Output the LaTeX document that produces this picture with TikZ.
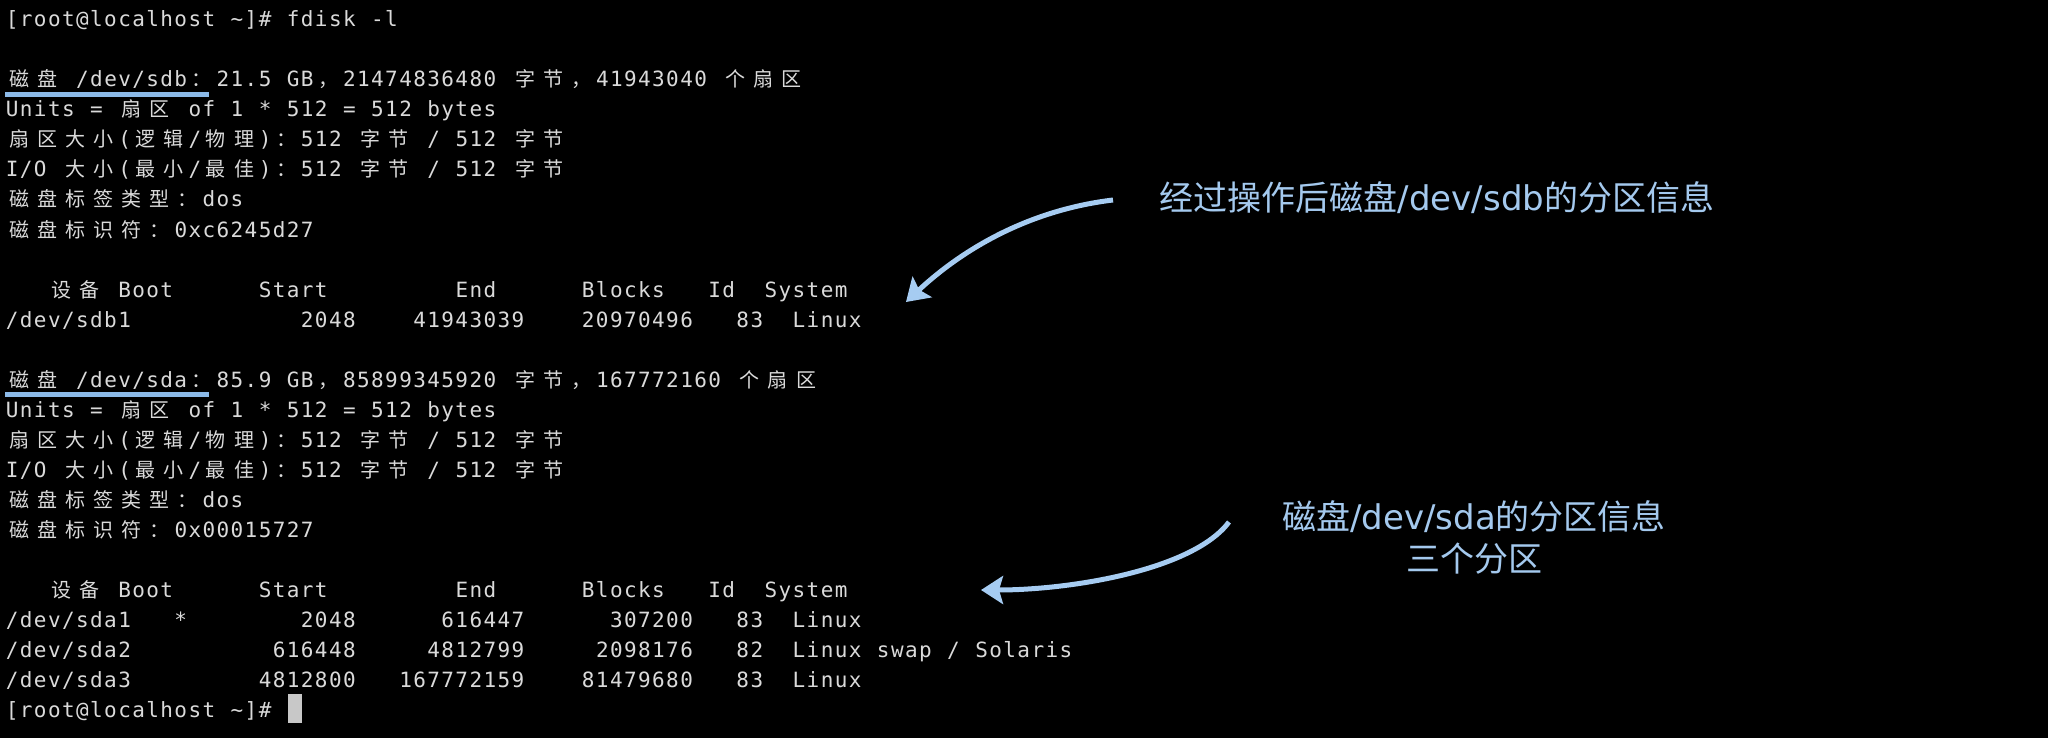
\documentclass[tikz,border=0pt]{standalone}
\usepackage{fontspec}
\usetikzlibrary{arrows.meta}
\newfontfamily\monofont{DejaVu Sans Mono}
\newfontfamily\cjkfont{Noto Sans CJK SC}
\newfontfamily\annlat{DejaVu Sans}
\definecolor{termgray}{HTML}{DADADA}
\definecolor{anncol}{HTML}{A4C9EE}
\definecolor{arrcol}{HTML}{A6CCF2}
\definecolor{ulcol}{HTML}{8CBAE8}
\definecolor{cursorgray}{HTML}{C8C8C8}
\newlength\cw \setlength\cw{14.05pt}
\def\Mend{MEND}
\newcommand\Mchar[1]{%
  \ifx#1~\hbox to\cw{}%
  \else\ifx#1\textasciitilde\hbox to\cw{\hss\textasciitilde\hss}%
  \else\ifnum`#1>255 \hbox to 2\cw{\hss{\cjkfont\fontsize{20}{30}\selectfont#1}\hss}%
  \else\hbox to\cw{\hss#1\hss}%
  \fi\fi\fi}
\def\Mloop#1{\ifx#1\Mend\else\Mchar{#1}\expandafter\Mloop\fi}
\newcommand\Mrow[1]{\Mloop#1\Mend}
\tikzset{
  term/.style={text=termgray, inner sep=0pt, anchor=base west,
    font=\monofont\fontsize{21}{30}\selectfont},
  ann/.style={text=anncol, inner sep=0pt, font=\fontsize{34}{42}\selectfont},
  uline/.style={draw=ulcol, line width=5pt},
  callout/.style={draw=arrcol, line width=5pt,
    -{Stealth[length=22pt,width=28pt,inset=4pt]}},
  cursorbox/.style={fill=cursorgray, minimum width=14pt, minimum height=29pt, inner sep=0pt}
}
\begin{document}
\begin{tikzpicture}[x=1pt,y=-1pt]
\fill[black] (0,0) rectangle (2048,738);
\useasboundingbox (0,0) rectangle (2048,738);
% terminal rows: baseline = 27 + 30k
\node[term] (r0) at (5,27) {\Mrow{[root@localhost~\textasciitilde]\#~fdisk~-l}};
\node[term] (r2) at (5,87) {\Mrow{磁盘~/dev/sdb：21.5~GB，21474836480~字节，41943040~个扇区}};
\node[term] (r3) at (5,117) {\Mrow{Units~=~扇区~of~1~*~512~=~512~bytes}};
\node[term] (r4) at (5,147) {\Mrow{扇区大小(逻辑/物理)：512~字节~/~512~字节}};
\node[term] (r5) at (5,177) {\Mrow{I/O~大小(最小/最佳)：512~字节~/~512~字节}};
\node[term] (r6) at (5,207) {\Mrow{磁盘标签类型：dos}};
\node[term] (r7) at (5,237) {\Mrow{磁盘标识符：0xc6245d27}};
\node[term] (r9) at (5,297) {\Mrow{~~~设备~Boot~~~~~~Start~~~~~~~~~End~~~~~~Blocks~~~Id~~System}};
\node[term] (r10) at (5,327) {\Mrow{/dev/sdb1~~~~~~~~~~~~2048~~~~41943039~~~~20970496~~~83~~Linux}};
\node[term] (r12) at (5,387) {\Mrow{磁盘~/dev/sda：85.9~GB，85899345920~字节，167772160~个扇区}};
\node[term] (r13) at (5,417) {\Mrow{Units~=~扇区~of~1~*~512~=~512~bytes}};
\node[term] (r14) at (5,447) {\Mrow{扇区大小(逻辑/物理)：512~字节~/~512~字节}};
\node[term] (r15) at (5,477) {\Mrow{I/O~大小(最小/最佳)：512~字节~/~512~字节}};
\node[term] (r16) at (5,507) {\Mrow{磁盘标签类型：dos}};
\node[term] (r17) at (5,537) {\Mrow{磁盘标识符：0x00015727}};
\node[term] (r19) at (5,597) {\Mrow{~~~设备~Boot~~~~~~Start~~~~~~~~~End~~~~~~Blocks~~~Id~~System}};
\node[term] (r20) at (5,627) {\Mrow{/dev/sda1~~~*~~~~~~~~2048~~~~~~616447~~~~~~307200~~~83~~Linux}};
\node[term] (r21) at (5,657) {\Mrow{/dev/sda2~~~~~~~~~~616448~~~~~4812799~~~~~2098176~~~82~~Linux~swap~/~Solaris}};
\node[term] (r22) at (5,687) {\Mrow{/dev/sda3~~~~~~~~~4812800~~~167772159~~~~81479680~~~83~~Linux}};
\node[term] (r23) at (5,717) {\Mrow{[root@localhost~\textasciitilde]\#~}};
\node[cursorbox] (cur) at (295,708.5) {};
% underlines
\draw[uline] ([yshift=-7.5pt]r2.base west) -- ([yshift=-7.5pt,xshift=204pt]r2.base west);
\draw[uline] ([yshift=-7.5pt]r12.base west) -- ([yshift=-7.5pt,xshift=204pt]r12.base west);
% annotations
\node[ann] (ann1) at (1437,198) {{\cjkfont 经过操作后磁盘}{\annlat /dev/sdb}{\cjkfont 的分区信息}};
\node[ann, align=center] (ann2) at (1474,537) {{\cjkfont 磁盘}{\annlat /dev/sda}{\cjkfont 的分区信息}\\{\cjkfont 三个分区}};
\coordinate (a1s) at (1113,200);
\coordinate (a1e) at (906,302);
\coordinate (a2s) at (1229,522);
\coordinate (a2e) at (981,590);
\draw[callout] (a1s) .. controls +(-83,10) and +(58,-54) .. (a1e);
\draw[callout] (a2s) .. controls +(-36,48) and +(90,0) .. (a2e);
\end{tikzpicture}
\end{document}
